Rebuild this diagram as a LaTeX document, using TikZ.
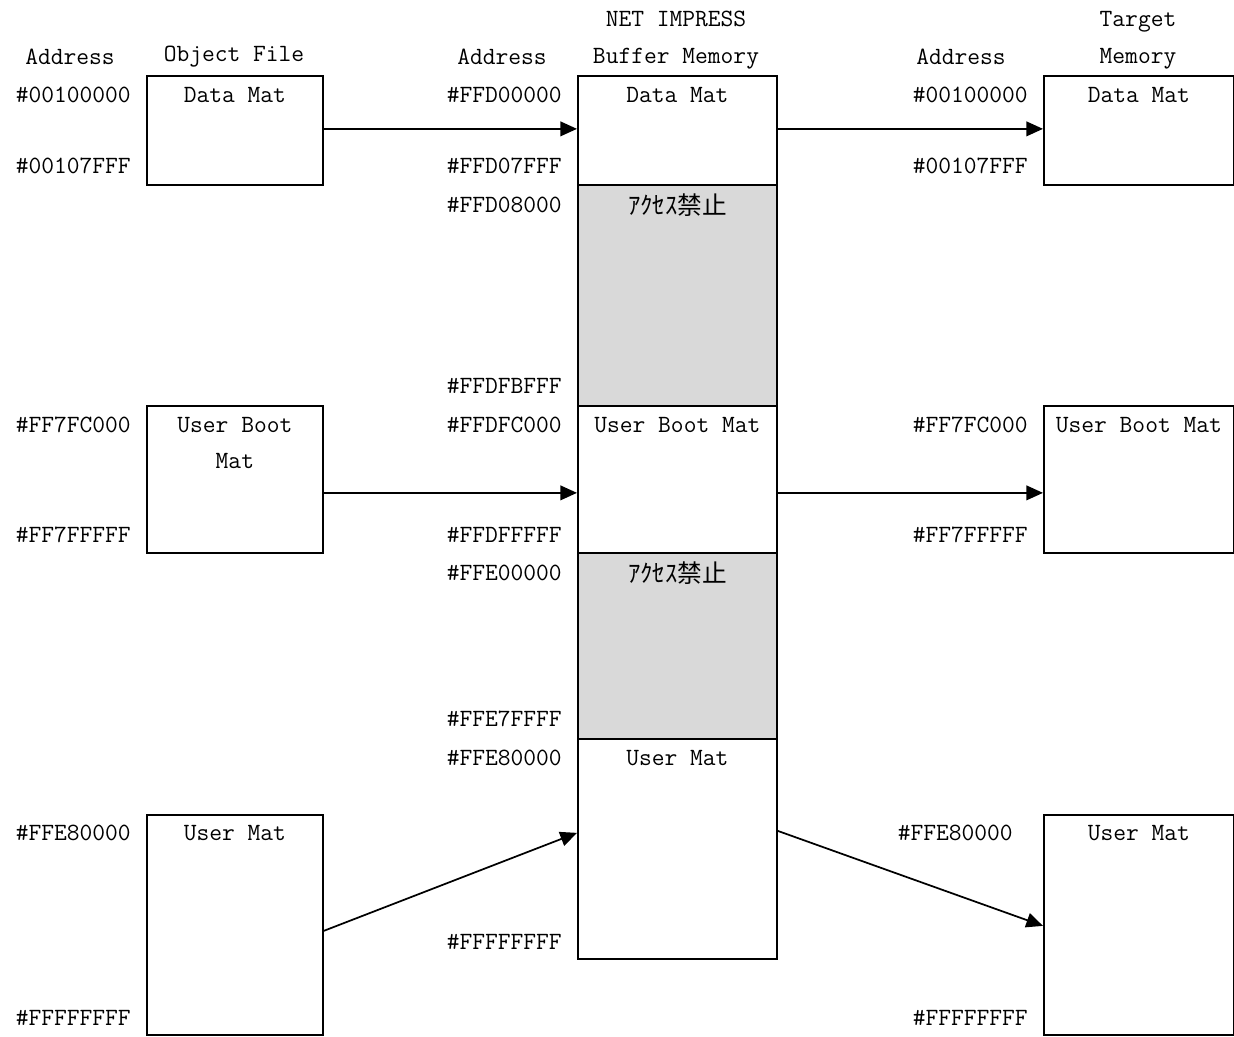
\documentclass[tikz,border=0pt]{standalone}
\usepackage{fontspec}
\newfontfamily\jpfont{Noto Sans CJK JP}
\usetikzlibrary{arrows.meta,calc}

\begin{document}
\begin{tikzpicture}[x=0.75pt, y=-0.75pt, font=\ttfamily\fontsize{18.6}{27.5}\selectfont]
        % Define styles
        \tikzstyle{mat} = [rectangle, draw=black, line width=1.3pt, anchor=north west, inner sep=0pt]
        \tikzstyle{banned} = [mat, fill=black!15]
        \tikzstyle{addr} = [anchor=east, inner sep=0pt]
        \tikzstyle{head} = [inner sep=0pt, align=center]
        \tikzstyle{jp} = [inner sep=0pt, font=\jpfont\fontsize{18.5}{20}\selectfont]
        \tikzstyle{arrow} = [line width=1.3pt, -{Triangle[length=12.5pt,width=11pt]}]

        \useasboundingbox (0,0) rectangle (1234,1036);

        % Object file
        \node [mat, minimum width=132pt, minimum height=81.75pt] (dataL) at (146,75) {};
        \node [mat, minimum width=132pt, minimum height=110.25pt] (bootL) at (146,405) {};
        \node [mat, minimum width=132pt, minimum height=165pt] (userL) at (146,814) {};

        % Buffer memory
        \node [mat, minimum width=149.25pt, minimum height=81.75pt] (dataM) at (577,75) {};
        \node [banned, minimum width=149.25pt, minimum height=165.75pt] (gapA) at (577,184) {};
        \node [mat, minimum width=149.25pt, minimum height=110.25pt] (bootM) at (577,405) {};
        \node [banned, minimum width=149.25pt, minimum height=139.5pt] (gapB) at (577,552) {};
        \node [mat, minimum width=149.25pt, minimum height=165pt] (userM) at (577,738) {};

        % Target memory
        \node [mat, minimum width=142.5pt, minimum height=81.75pt] (dataR) at (1043,75) {};
        \node [mat, minimum width=142.5pt, minimum height=110.25pt] (bootR) at (1043,405) {};
        \node [mat, minimum width=142.5pt, minimum height=165pt] (userR) at (1043,814) {};

        % Box texts
        \node [head] (dataLtxt) at ($(dataL.north)+(0,20)$) {Data Mat};
        \node [head] (bootLtxt) at ($(bootL.north)+(0,38)$) {User Boot\\Mat};
        \node [head] (userLtxt) at ($(userL.north)+(0,19)$) {User Mat};
        \node [head] (dataMtxt) at ($(dataM.north)+(0,20)$) {Data Mat};
        \node [jp] (gapAtxt) at ($(gapA.north)+(0,21)$) {ｱｸｾｽ禁止};
        \node [head] (bootMtxt) at ($(bootM.north)+(0,20)$) {User Boot Mat};
        \node [jp] (gapBtxt) at ($(gapB.north)+(0,21)$) {ｱｸｾｽ禁止};
        \node [head] (userMtxt) at ($(userM.north)+(0,20)$) {User Mat};
        \node [head] (dataRtxt) at ($(dataR.north)+(0,20)$) {Data Mat};
        \node [head] (bootRtxt) at ($(bootR.north)+(0,20)$) {User Boot Mat};
        \node [head] (userRtxt) at ($(userR.north)+(0,19)$) {User Mat};

        % Column headings
        \node [head] (addrL) at (70,57) {Address};
        \node [head] (objfile) at (234,57) {Object File};
        \node [head] (addrM) at (502,57) {Address};
        \node [head] (netimp) at (676,40) {NET IMPRESS\\Buffer Memory};
        \node [head] (addrR) at (961,57) {Address};
        \node [head] (target) at (1138,40) {Target\\Memory};

        % Addresses
        \node [addr] at (131,95) {\#00100000};
        \node [addr] at (131,166) {\#00107FFF};
        \node [addr] at (131,425) {\#FF7FC000};
        \node [addr] at (131,535) {\#FF7FFFFF};
        \node [addr] at (131,833) {\#FFE80000};
        \node [addr] at (131,1018) {\#FFFFFFFF};

        \node [addr] at (562,95) {\#FFD00000};
        \node [addr] at (562,166) {\#FFD07FFF};
        \node [addr] at (562,205) {\#FFD08000};
        \node [addr] at (562,386) {\#FFDFBFFF};
        \node [addr] at (562,425) {\#FFDFC000};
        \node [addr] at (562,535) {\#FFDFFFFF};
        \node [addr] at (562,573) {\#FFE00000};
        \node [addr] at (562,719) {\#FFE7FFFF};
        \node [addr] at (562,758) {\#FFE80000};
        \node [addr] at (562,942) {\#FFFFFFFF};

        \node [addr] at (1028,95) {\#00100000};
        \node [addr] at (1028,166) {\#00107FFF};
        \node [addr] at (1028,425) {\#FF7FC000};
        \node [addr] at (1028,535) {\#FF7FFFFF};
        \node [addr] at (1013,833) {\#FFE80000};
        \node [addr] at (1028,1018) {\#FFFFFFFF};

        % Arrows
        \draw [arrow] ($(dataL.east)+(0,-1.5)$) -- ($(dataM.west)+(0,-1.5)$);
        \draw [arrow] ($(dataM.east)+(0,-1.5)$) -- ($(dataR.west)+(0,-1.5)$);
        \draw [arrow] ($(bootL.east)+(0,13.5)$) -- ($(bootM.west)+(0,13.5)$);
        \draw [arrow] ($(bootM.east)+(0,13.5)$) -- ($(bootR.west)+(0,13.5)$);
        \draw [arrow] ($(userL.east)+(0,6)$) -- ($(userM.west)+(0,-16)$);
        \draw [arrow] ($(userM.east)+(0,-18)$) -- ($(userR.west)+(0,1)$);
    \end{tikzpicture}
\end{document}
